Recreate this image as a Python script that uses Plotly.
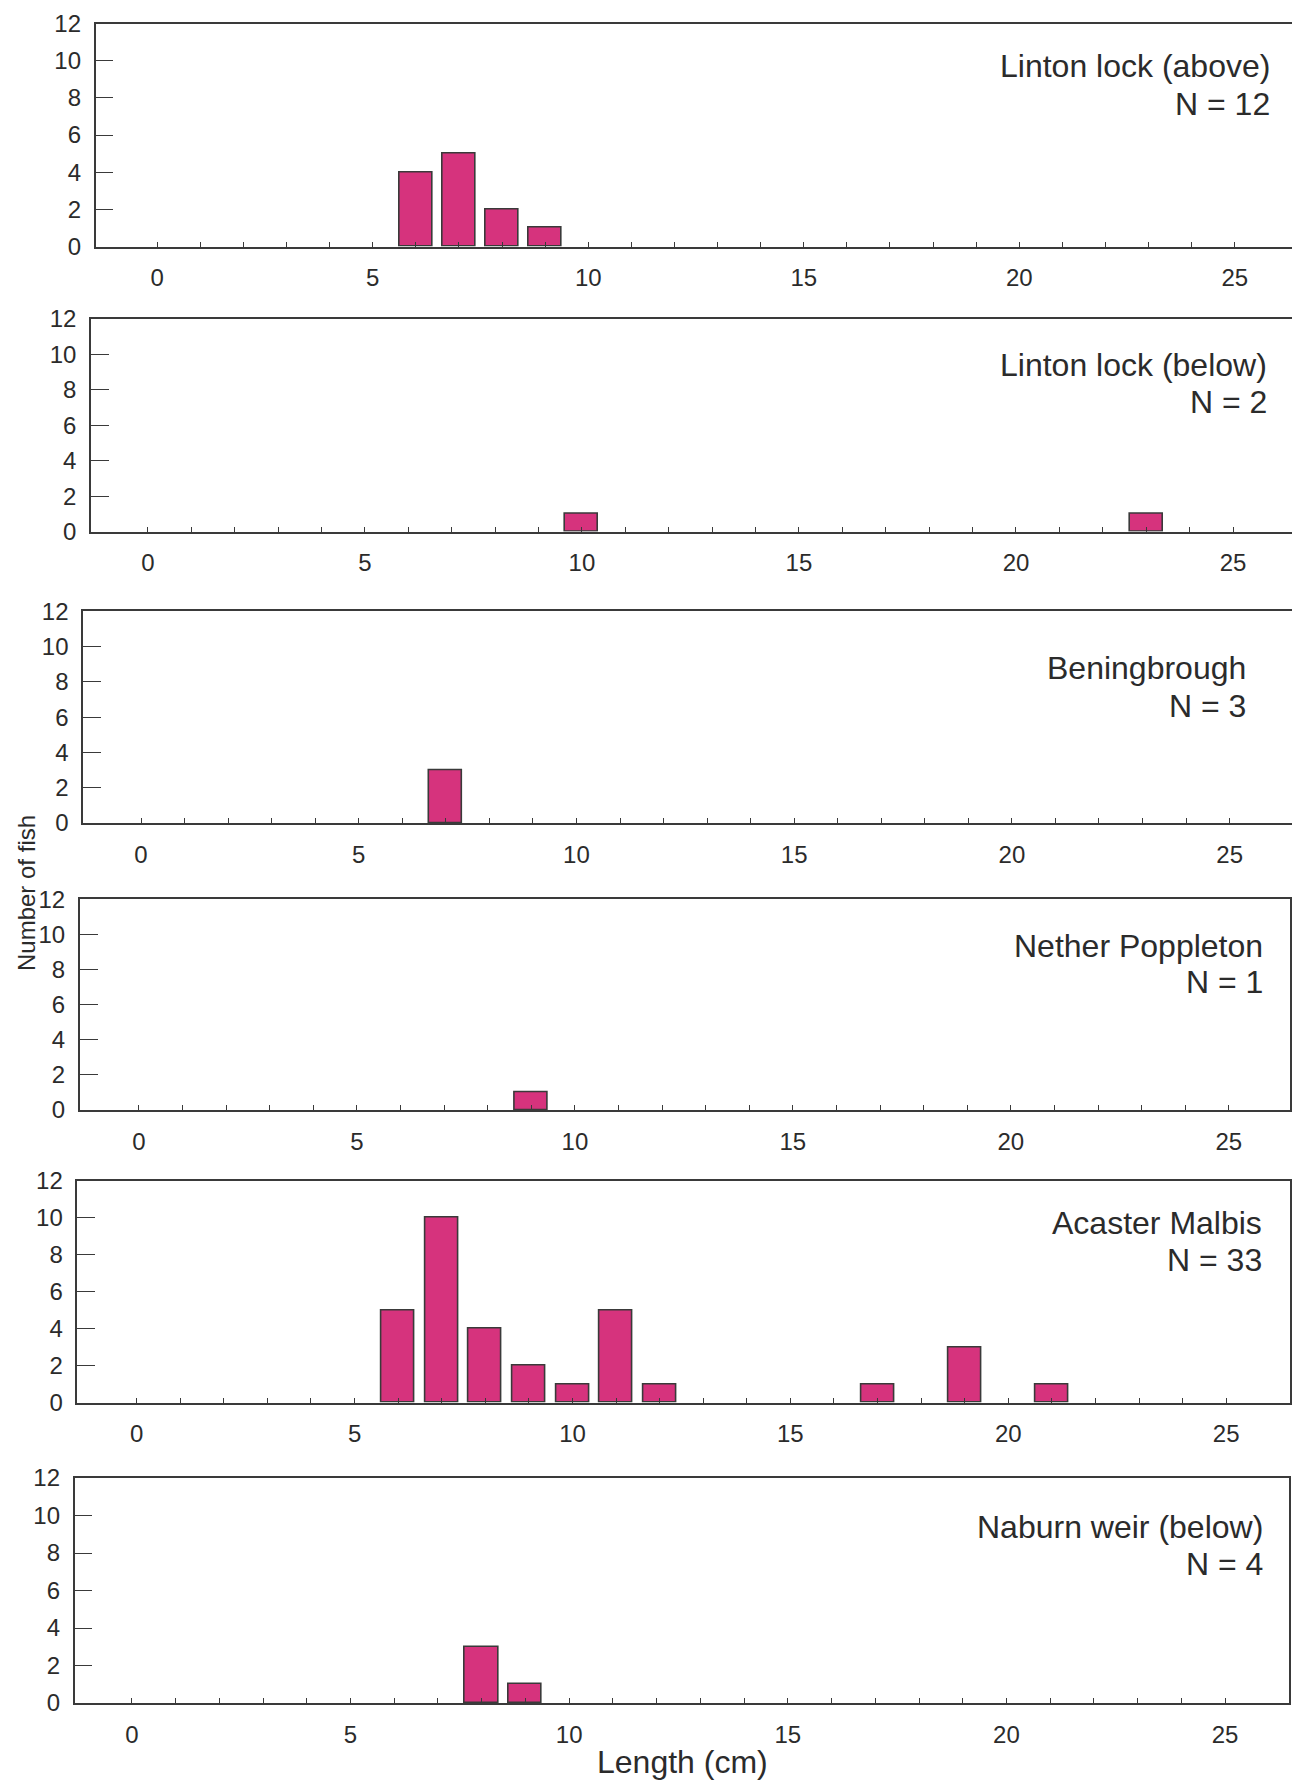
import plotly.graph_objects as go

# ---------------- data ----------------
sites = ["Linton lock (above)", "Linton lock (below)", "Beningbrough",
         "Nether Poppleton", "Acaster Malbis", "Naburn weir (below)"]
n_fish = [12, 2, 3, 1, 33, 4]

len_linton_above = [6, 7, 8, 9]
cnt_linton_above = [4, 5, 2, 1]
len_linton_below = [10, 23]
cnt_linton_below = [1, 1]
len_beningbrough = [7]
cnt_beningbrough = [3]
len_nether_poppleton = [9]
cnt_nether_poppleton = [1]
len_acaster_malbis = [6, 7, 8, 9, 10, 11, 12, 17, 19, 21]
cnt_acaster_malbis = [5, 10, 4, 2, 1, 5, 1, 1, 3, 1]
len_naburn_below = [8, 9]
cnt_naburn_below = [3, 1]

x_tick_vals = list(range(0, 26))
x_tick_text = [str(v) if v % 5 == 0 else "" for v in x_tick_vals]
y_tick_vals = [0, 2, 4, 6, 8, 10, 12]
x_title = "Length (cm)"
y_title = "Number of fish"

series = [
    (len_linton_above, cnt_linton_above),
    (len_linton_below, cnt_linton_below),
    (len_beningbrough, cnt_beningbrough),
    (len_nether_poppleton, cnt_nether_poppleton),
    (len_acaster_malbis, cnt_acaster_malbis),
    (len_naburn_below, cnt_naburn_below),
]

# ---------------- layout (pixel geometry of scanned panels) ----------------
PAGE_W, PAGE_H = 1300, 1785
OFF = 8  # default page body margin
W, H = PAGE_W - OFF, PAGE_H - OFF


def px(xp):
    return (xp - OFF) / W


def py(yp):
    return 1 - (yp - OFF) / H


# left, right, top, bottom in page pixels
panels = [
    (95.6, 1295.5, 23.5, 246.5),
    (91.0, 1295.5, 318.8, 531.6),
    (83.1, 1293.2, 611.3, 823.0),
    (79.7, 1289.8, 899.3, 1110.0),
    (77.4, 1289.8, 1180.5, 1402.5),
    (74.6, 1288.5, 1478.0, 1703.0),
]
x_ranges = [(-1.43, 26.41), (-1.31, 26.44), (-1.33, 26.46),
            (-1.36, 26.40), (-1.36, 26.46), (-1.31, 26.45)]
# annotation: right x, line1 y, line2 y (page pixels)
label_pos = [
    (1272, 66, 104),
    (1269, 365, 402),
    (1248, 668, 706),
    (1265, 946, 982),
    (1264, 1223, 1260),
    (1265, 1527, 1564),
]

FONT = "Liberation Sans, Arial, sans-serif"
TXT = "#2b2b2b"
LINE = "#3a3a3a"
BAR = "#d6337d"

fig = go.Figure()
layout = dict(
    width=W, height=H,
    margin=dict(l=0, r=0, t=0, b=0, autoexpand=False),
    paper_bgcolor="white", plot_bgcolor="white",
    showlegend=False,
    font=dict(family=FONT, color=TXT),
    bargap=0,
)
annotations = []

for i, ((xs, ys), (l, r, t, b), xr, (ax, ay1, ay2)) in enumerate(
        zip(series, panels, x_ranges, label_pos)):
    k = i + 1
    xa = "x" if k == 1 else f"x{k}"
    ya = "y" if k == 1 else f"y{k}"
    fig.add_trace(go.Bar(
        x=xs, y=ys, xaxis=xa, yaxis=ya, width=0.76,
        marker=dict(color=BAR, line=dict(color=LINE, width=1.6)),
        hoverinfo="x+y",
    ))
    layout[f"xaxis{k}"] = dict(
        domain=[px(l), px(r)], range=list(xr), anchor=ya, automargin=False,
        tickmode="array", tickvals=x_tick_vals, ticktext=x_tick_text,
        ticks="inside", ticklen=5, tickwidth=1.2, tickcolor=LINE,
        showline=True, linecolor=LINE, linewidth=1.6, mirror=True,
        showgrid=False, zeroline=False,
        tickfont=dict(size=24, color=TXT, family=FONT),
        ticklabelstandoff=9, ticklabeloverflow="allow",
    )
    layout[f"yaxis{k}"] = dict(
        domain=[py(b), py(t)], range=[0, 12], anchor=xa, automargin=False,
        tickmode="array", tickvals=y_tick_vals,
        ticks="inside", ticklen=18, tickwidth=1.4, tickcolor=LINE,
        showline=True, linecolor=LINE, linewidth=1.6, mirror=True,
        showgrid=False, zeroline=False,
        tickfont=dict(size=24, color=TXT, family=FONT),
        ticklabelstandoff=8, ticklabeloverflow="allow",
    )
    annotations.append(dict(
        xref="paper", yref="paper", x=px(ax), y=py(ay1),
        xanchor="right", yanchor="middle", showarrow=False,
        text=sites[i], font=dict(size=32, color=TXT, family=FONT)))
    annotations.append(dict(
        xref="paper", yref="paper", x=px(ax), y=py(ay2),
        xanchor="right", yanchor="middle", showarrow=False,
        text=f"N = {n_fish[i]}", font=dict(size=32, color=TXT, family=FONT)))

annotations.append(dict(
    xref="paper", yref="paper", x=px(682), y=py(1762),
    xanchor="center", yanchor="middle", showarrow=False,
    text=x_title, font=dict(size=32, color=TXT, family=FONT)))
annotations.append(dict(
    xref="paper", yref="paper", x=px(26), y=py(893),
    xanchor="center", yanchor="middle", showarrow=False, textangle=-90,
    text=y_title, font=dict(size=24, color=TXT, family=FONT)))

layout["annotations"] = annotations
fig.update_layout(**layout)
fig.write_html("out.html")
